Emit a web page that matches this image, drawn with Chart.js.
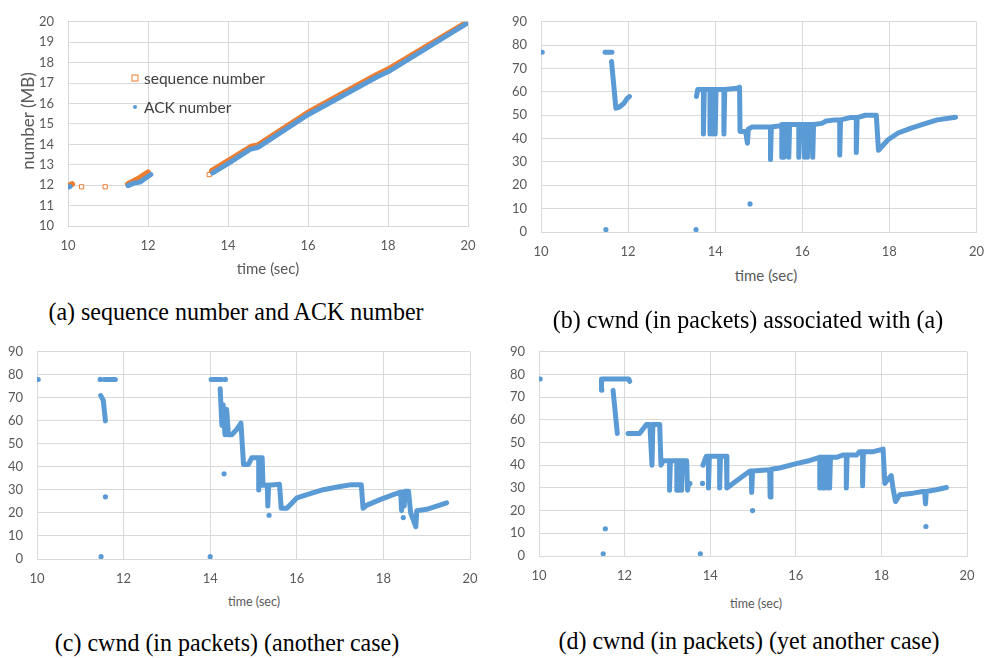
<!DOCTYPE html>
<html>
<head>
<meta charset="utf-8">
<script src="https://cdn.jsdelivr.net/npm/chart.js@4.4.1/dist/chart.umd.min.js"></script>
<style>
  html, body { margin: 0; padding: 0; background: #fff; }
  #page { position: relative; width: 996px; height: 658px; overflow: hidden; }
  canvas { position: absolute; }
  .lbl { position: absolute; white-space: nowrap; color: #595959; font-family: Lato, "Open Sans", sans-serif; }
  .cap { position: absolute; white-space: nowrap; color: #000; font-family: "Liberation Serif", "DejaVu Serif", serif; font-size: 24px; transform: translate(-50%, -50%) scaleY(1.08); }
  .ttl { font-size: 15px; transform: translate(-50%, -50%); }
  .ttl-sm { font-size: 12.5px; transform: translate(-50%, -50%); }
  .leg { font-size: 15.5px; color: #404040; transform: translateY(-50%); }
  .sq { position: absolute; width: 5px; height: 5px; border: 1px solid #ED7D31; background: #fff; transform: translate(-50%, -50%); }
  .dot { position: absolute; width: 4px; height: 4px; border-radius: 50%; background: #5B9BD5; transform: translate(-50%, -50%); }
</style>
</head>
<body>
<div id="page">
  <canvas id="cA" width="490" height="262" style="left:0px;top:0px"></canvas>
  <canvas id="cB" width="506" height="265" style="left:490px;top:0px"></canvas>
  <canvas id="cC" width="490" height="262" style="left:0px;top:330px"></canvas>
  <canvas id="cD" width="506" height="262" style="left:490px;top:330px"></canvas>

  <!-- axis titles -->
  <div class="lbl ttl" style="left:268px;top:268px">time (sec)</div>
  <div class="lbl" style="left:27px;top:121px;font-size:17px;transform:translate(-50%,-50%) rotate(-90deg)">number (MB)</div>
  <div class="lbl ttl" style="left:766px;top:275px">time (sec)</div>
  <div class="lbl ttl-sm" style="left:254px;top:601px">time (sec)</div>
  <div class="lbl ttl-sm" style="left:756px;top:603px">time (sec)</div>

  <!-- legend of panel (a) -->
  <div class="sq" style="left:135px;top:78px"></div>
  <div class="lbl leg" style="left:144px;top:78px">sequence number</div>
  <div class="dot" style="left:135px;top:107px"></div>
  <div class="lbl leg" style="left:144px;top:107px">ACK number</div>

  <!-- captions -->
  <div class="cap" style="left:236px;top:312px">(a) sequence number and ACK number</div>
  <div class="cap" style="left:748px;top:320px">(b) cwnd (in packets) associated with (a)</div>
  <div class="cap" style="left:227px;top:643px">(c) cwnd (in packets) (another case)</div>
  <div class="cap" style="left:749px;top:641px">(d) cwnd (in packets) (yet another case)</div>
</div>

<script>
// ---- (a) sequence / ACK number (MB) vs time (sec); null marks a gap ----
const seqTime = [10.0, 10.1, null, 11.5, 11.75, 12.0, null, 13.6, 14.0, 14.6, 14.75, 16.0, 17.72, 18.0, 20.0];
const seqMB   = [11.95, 12.05, null, 12.05, 12.3, 12.62, null, 12.7, 13.18, 13.9, 13.95, 15.55, 17.4, 17.66, 20.0];
const seqLoneTime = [10.34, 10.93, 13.53];
const seqLoneMB   = [11.92, 11.92, 12.52];
const ackTime = [10.0, 10.05, null, 11.5, 11.65, 11.8, 12.07, null, 13.62, 14.0, 14.55, 14.75, 16.0, 17.72, 18.0, 19.95];
const ackMB   = [11.9, 11.93, null, 11.98, 12.1, 12.15, 12.52, null, 12.6, 13.05, 13.75, 13.85, 15.45, 17.3, 17.55, 19.9];

// ---- (b) cwnd (packets) associated with (a) ----
const bTime = [10.0, 10.03, null, 11.47, 11.63, null, 11.62, 11.72, 11.8, 11.9, 11.97, 12.03, null,
  13.57, 13.6, 13.73, 13.73, 13.75, 13.88, 13.88, 13.9, 13.94, 13.94, 13.96, 14.0, 14.0, 14.02, 14.2, 14.2, 14.22,
  14.5, 14.56, 14.57, 14.7, 14.74, 14.76, 14.85, 15.27, 15.27, 15.29, 15.5, 15.53, 15.53, 15.55, 15.58, 15.58, 15.6,
  15.69, 15.69, 15.71, 15.92, 15.92, 15.94, 16.04, 16.04, 16.06, 16.12, 16.12, 16.14, 16.24, 16.24, 16.26,
  16.45, 16.55, 16.75, 16.86, 16.86, 16.88, 17.1, 17.24, 17.24, 17.26, 17.45, 17.7, 17.75,
  17.97, 18.2, 18.5, 18.8, 19.1, 19.52];
const bCwnd = [77, 77, null, 77, 77, null, 73, 53, 53.5, 55, 57, 58, null,
  58, 61, 61, 42, 61, 61, 42, 61, 61, 42, 61, 61, 42, 61, 61, 42, 61,
  61.5, 62, 43, 43, 38, 44, 45, 45, 31, 45, 45.5, 46, 32, 46, 46, 32, 46,
  46, 32, 46, 46, 32, 46, 46, 32, 46, 46, 32, 46, 46, 32, 46,
  46.5, 47.5, 48, 48, 33, 48, 49, 49, 34, 49, 50, 50, 35,
  39.5, 42.4, 44.5, 46.3, 48, 49.1];
const bLoneTime = [11.49, 13.56, 14.8];
const bLoneCwnd = [1, 1, 12];

// ---- (c) cwnd (packets), another case ----
const cTime = [10.0, 10.03, null, 11.55, 11.81, null, 11.47, 11.53, 11.58, null, 14.02, 14.27, null,
  14.23, 14.27, 14.3, 14.34, 14.38, 14.42, 14.5, 14.6, 14.71, 14.77, 14.88, 14.96, 15.12, 15.12, 15.14, 15.2,
  15.22, 15.32, 15.33, 15.35, 15.6, 15.64, 15.77, 16.0, 16.31, 16.61, 17.0, 17.23, 17.49, 17.53, 17.61,
  17.92, 18.23, 18.4, 18.42, 18.44, 18.47, 18.48, 18.5, 18.58, 18.63, 18.75, 18.77, 19.0, 19.23, 19.46];
const cCwnd = [78, 78, null, 78, 78, null, 71, 69, 60, null, 78, 78, null,
  74, 58, 67, 54, 65, 54, 54, 56, 59, 41, 41, 44, 44, 30, 44, 44,
  32, 32, 23, 32, 32.5, 22, 22, 26.5, 28.4, 30.1, 31.5, 32.2, 32.2, 22, 23.3,
  25.8, 28, 29, 21, 29, 29, 23, 29.4, 29.4, 20, 14, 21, 21.6, 23, 24.4];
const cLoneTime = [11.46, 11.48, 11.58, 14.0, 14.35, 14.32, 15.36, 18.46];
const cLoneCwnd = [78, 1, 27, 1, 78, 37, 19, 18];

// ---- (d) cwnd (packets), yet another case ----
const dTime = [10.0, 10.03, null, 11.47, 11.46, 12.1, 12.12, null, 11.73, 11.83, null,
  12.08, 12.35, 12.51, 12.59, 12.64, 12.66, 12.82, 12.85, 12.9, 13.05, 13.05, 13.07, 13.22, 13.22, 13.24,
  13.27, 13.27, 13.29, 13.33, 13.33, 13.35, 13.45, 13.47, 13.5, 13.53, null,
  13.83, 13.91, 13.96, 13.96, 13.98, 14.22, 14.22, 14.24, 14.38, 14.39, 14.53, 14.69, 14.92, 14.96, 14.97, 14.99,
  15.39, 15.4, 15.42, 15.62, 16.01, 16.33, 16.56, 16.56, 16.58, 16.62, 16.62, 16.64, 16.67, 16.67, 16.69,
  16.73, 16.73, 16.75, 16.79, 16.79, 16.81, 16.95, 17.1, 17.18, 17.18, 17.2, 17.42, 17.49, 17.56, 17.56, 17.58,
  17.81, 18.04, 18.08, 18.12, 18.23, 18.27, 18.33, 18.43, 18.74, 18.97, 19.01, 19.03, 19.05, 19.28, 19.52];
const dCwnd = [78, 78, null, 73, 78, 78, 77, null, 73, 54, null,
  54, 54, 58, 58, 40, 58, 58, 40, 42, 42, 29, 42, 42, 29, 42,
  42, 29, 42, 42, 29, 42, 42, 29, 32, 32, null,
  40, 44, 44, 30, 44, 44, 30, 44, 44, 30, 32, 34.2, 37.4, 37.5, 28, 37.5,
  38, 26, 38.2, 38.8, 40.7, 42.1, 43.5, 30, 43.5, 43.5, 30, 43.5, 43.5, 30, 43.5,
  43.5, 30, 43.5, 43.5, 30, 43.5, 43.5, 44.5, 44.5, 30, 44.5, 44.5, 46, 46, 31, 46,
  46, 47.1, 32, 33, 35.4, 30, 24, 27, 27.7, 28.4, 28.4, 23, 28.4, 29.2, 30.2];
const dLoneTime = [11.5, 11.55, 13.77, 13.82, 14.99, 19.04];
const dLoneCwnd = [1, 12, 1, 32, 20, 13];

const timeTicks = [10, 12, 14, 16, 18, 20];

const BLUE = '#5B9BD5';
const ORANGE = '#ED7D31';
const GRID = '#D9D9D9';
const TICK_FONT = { family: 'Lato, "Open Sans", sans-serif', size: 13 };

// pair two arrays into {x, y} points; a null entry breaks the line
function toPoints(ts, vs) {
  const out = [];
  let lastX = ts.find(t => t !== null);
  for (let i = 0; i < ts.length; i++) {
    if (ts[i] === null || vs[i] === null) { out.push({ x: lastX, y: null }); }
    else { lastX = ts[i]; out.push({ x: ts[i], y: vs[i] }); }
  }
  return out;
}

function traceSet(ts, vs, color, width, order) {
  return {
    data: toPoints(ts, vs), showLine: true, spanGaps: false, tension: 0,
    borderColor: color, borderWidth: width, borderCapStyle: 'round', borderJoinStyle: 'round',
    pointRadius: 0, pointHoverRadius: 0, order: order
  };
}

function dotSet(ts, vs, order) {
  return {
    data: toPoints(ts, vs), showLine: false,
    pointRadius: 2.6, pointBackgroundColor: BLUE, pointBorderWidth: 0, order: order
  };
}

// area = wanted plot rectangle inside the canvas {left, top, right, bottom}
function makeChart(id, datasets, yMin, yMax, yStep, area) {
  const cv = document.getElementById(id);
  const yWidth = area.left - 8;
  const pad = { left: 8, top: area.top, right: cv.width - area.right, bottom: cv.height - area.bottom - 30 };
  const chart = new Chart(cv, {
    type: 'scatter',
    data: { datasets },
    options: {
      responsive: false, animation: false, devicePixelRatio: 1,
      layout: { padding: pad },
      plugins: { legend: { display: false }, tooltip: { enabled: false } },
      scales: {
        x: {
          type: 'linear', min: 10, max: 20,
          afterBuildTicks: s => { s.ticks = timeTicks.map(v => ({ value: v })); },
          afterFit: s => { s.height = 30; },
          grid: { color: GRID, lineWidth: 1, drawTicks: false },
          border: { color: GRID, width: 1 },
          ticks: { color: '#595959', font: TICK_FONT, padding: 12, maxRotation: 0 }
        },
        y: {
          type: 'linear', min: yMin, max: yMax,
          afterFit: s => { s.width = yWidth; },
          grid: { color: GRID, lineWidth: 1, drawTicks: false },
          border: { color: GRID, width: 1 },
          ticks: { color: '#595959', font: TICK_FONT, padding: 14, stepSize: yStep }
        }
      }
    }
  });
  // nudge the layout padding so the plot rectangle lands where wanted
  for (let pass = 0; pass < 2; pass++) {
    const ca = chart.chartArea;
    const p = chart.options.layout.padding;
    p.left += area.left - ca.left;
    p.top += area.top - ca.top;
    p.right += ca.right - area.right;
    p.bottom += ca.bottom - area.bottom;
    chart.update();
  }
  return chart;
}

// (a): ACK trace drawn over the sequence trace
makeChart('cA', [
  traceSet(ackTime, ackMB, BLUE, 5, 1),
  traceSet(seqTime, seqMB, ORANGE, 6, 2),
  {
    data: toPoints(seqLoneTime, seqLoneMB), showLine: false, pointStyle: 'rect',
    pointRadius: 3, pointBackgroundColor: '#fff', pointBorderColor: ORANGE, pointBorderWidth: 1, order: 3
  }
], 10, 20, 1, { left: 68, top: 16, right: 468, bottom: 226 });

makeChart('cB', [
  traceSet(bTime, bCwnd, BLUE, 5, 1),
  dotSet(bLoneTime, bLoneCwnd, 2)
], 0, 90, 10, { left: 51, top: 16, right: 492, bottom: 232 });

makeChart('cC', [
  traceSet(cTime, cCwnd, BLUE, 5, 1),
  dotSet(cLoneTime, cLoneCwnd, 2)
], 0, 90, 10, { left: 37, top: 18, right: 470, bottom: 229 });

makeChart('cD', [
  traceSet(dTime, dCwnd, BLUE, 5, 1),
  dotSet(dLoneTime, dLoneCwnd, 2)
], 0, 90, 10, { left: 49, top: 17, right: 477, bottom: 226 });
</script>
</body>
</html>
